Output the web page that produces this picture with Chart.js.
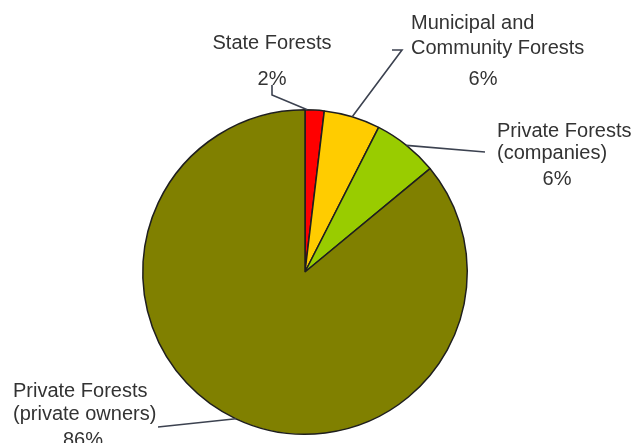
<!doctype html>
<html lang="en">

<head>
    <meta charset="utf-8">
    <title>Forest ownership</title>
    <script type="text/javascript" src="https://cdn.jsdelivr.net/npm/chart.js"></script>
    <style>
        html, body { margin: 0; padding: 0; background: #fff; }
        #myChart { display: block; }
    </style>
</head>

<body>
    <canvas id="myChart" width="640" height="443"></canvas>

    <script>
        // data
        const categories = [
            ['State Forests'],
            ['Municipal and', 'Community Forests'],
            ['Private Forests', '(companies)'],
            ['Private Forests', '(private owners)']
        ];
        const shares = [1.9, 5.6, 6.5, 86.0];
        const percentLabels = ['2%', '6%', '6%', '86%'];
        const sliceColors = ['#ff0000', '#ffcc00', '#99cc00', '#808000'];

        // where each label sits, and how its leader line bends
        const labelLayout = [
            { t: 0.12, path: [[272, 95], [272, 85]], align: 'center', x: 272, ys: [49], pct: [272, 85] },
            { t: 0.5, path: [[402, 50], [392, 50]], align: 'left', x: 411, ys: [29, 54], pct: [483, 85] },
            { t: 0.5, path: [[485, 152]], align: 'left', x: 497, ys: [137, 159], pct: [557, 185] },
            { t: 0.5, path: [[158, 427]], align: 'left', x: 13, ys: [397, 420], pct: [83, 446] }
        ];

        const calloutPlugin = {
            id: 'callouts',
            afterDraw(chart) {
                const ctx = chart.ctx;
                const arcs = chart.getDatasetMeta(0).data;
                ctx.save();
                arcs.forEach((arc, i) => {
                    const lay = labelLayout[i];
                    const a = arc.startAngle + (arc.endAngle - arc.startAngle) * lay.t;
                    const ax = arc.x + Math.cos(a) * arc.outerRadius;
                    const ay = arc.y + Math.sin(a) * arc.outerRadius;
                    // leader line
                    ctx.strokeStyle = '#3c4250';
                    ctx.lineWidth = 1.6;
                    ctx.beginPath();
                    ctx.moveTo(ax, ay);
                    lay.path.forEach(p => ctx.lineTo(p[0], p[1]));
                    ctx.stroke();
                    // text
                    ctx.fillStyle = '#333333';
                    ctx.font = '20px "Liberation Sans", Arial, sans-serif';
                    ctx.textBaseline = 'alphabetic';
                    ctx.textAlign = lay.align;
                    categories[i].forEach((line, j) => {
                        ctx.fillText(line, lay.x, lay.ys[j]);
                    });
                    ctx.textAlign = 'center';
                    ctx.fillText(percentLabels[i], lay.pct[0], lay.pct[1]);
                });
                ctx.restore();
            }
        };

        const data = {
            labels: categories.map(c => c.join(' ')),
            datasets: [{
                data: shares,
                backgroundColor: sliceColors,
                borderColor: '#1e1e1e',
                borderWidth: 1.5
            }]
        };

        const config = {
            type: 'pie',
            data,
            options: {
                responsive: false,
                animation: false,
                layout: {
                    padding: { left: 142, right: 172, top: 109, bottom: 8 }
                },
                plugins: {
                    legend: { display: false },
                    tooltip: { enabled: false }
                }
            },
            plugins: [calloutPlugin]
        };

        const myChart = new Chart(
            document.getElementById('myChart'),
            config
        );
    </script>

</body>

</html>
